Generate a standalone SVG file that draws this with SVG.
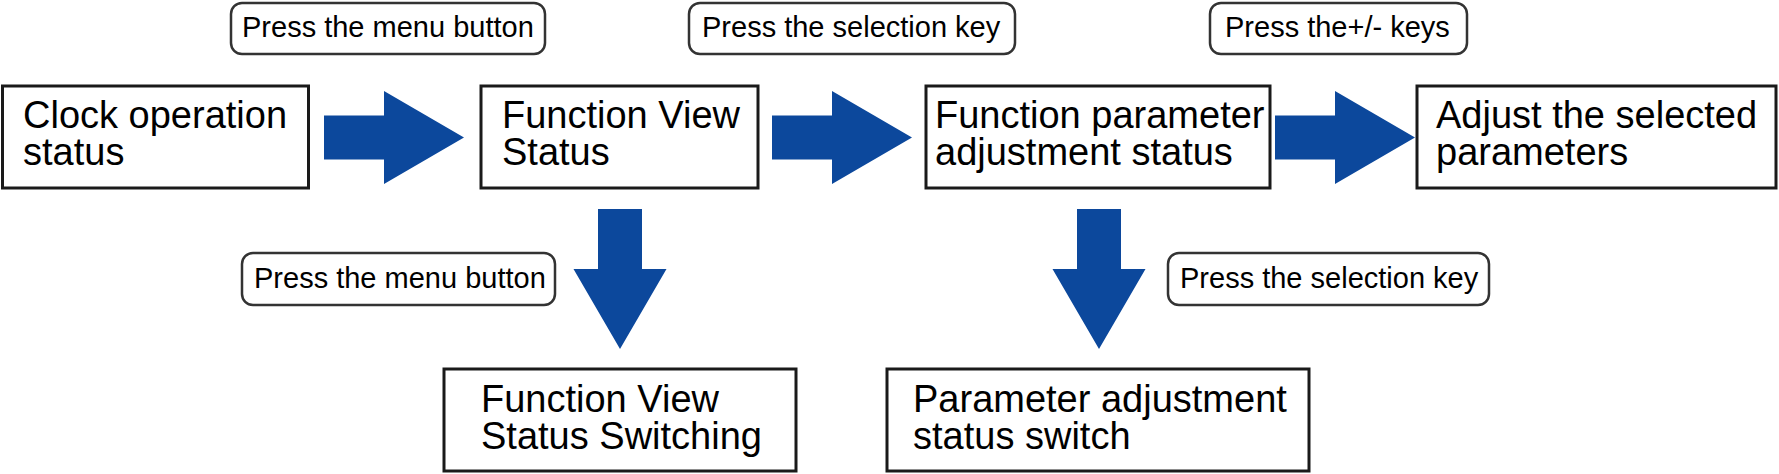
<svg xmlns="http://www.w3.org/2000/svg" width="1779" height="474" viewBox="0 0 1779 474">
<defs>
<style>
.node{fill:#fff;stroke:#1a1a1a;stroke-width:3}
.lab{fill:#fff;stroke:#333;stroke-width:2.5}
.nt{font-family:"Liberation Sans",Arial,sans-serif;font-size:38px;fill:#000}
.lt{font-family:"Liberation Sans",Arial,sans-serif;font-size:29px;fill:#000}
.arr{fill:#0c489c}
</style>
<path id="ah" d="M0,-22 L60,-22 L60,-46.5 L140,0 L60,46.5 L60,22 L0,22 Z"/>
</defs>
<rect width="1779" height="474" fill="#fff"/>
<g id="connectors">
<use href="#ah" class="arr" transform="translate(324,137.5)"/>
<use href="#ah" class="arr" transform="translate(772,137.5)"/>
<use href="#ah" class="arr" transform="translate(1275,137.5)"/>
<use href="#ah" class="arr" transform="translate(620,209) rotate(90)"/>
<use href="#ah" class="arr" transform="translate(1099,209) rotate(90)"/>
</g>
<g id="label1"><rect class="lab" x="231" y="3" width="314" height="51" rx="11"/><text class="lt" x="242" y="37">Press the menu button</text></g>
<g id="label2"><rect class="lab" x="689" y="3" width="326" height="51" rx="11"/><text class="lt" x="702" y="37">Press the selection key</text></g>
<g id="label3"><rect class="lab" x="1210" y="3" width="257" height="51" rx="11"/><text class="lt" x="1225" y="37">Press the+/- keys</text></g>
<g id="label4"><rect class="lab" x="242" y="253" width="313" height="52" rx="11"/><text class="lt" x="254" y="288">Press the menu button</text></g>
<g id="label5"><rect class="lab" x="1168" y="253" width="321" height="52" rx="11"/><text class="lt" x="1180" y="288">Press the selection key</text></g>
<g id="node1"><rect class="node" x="2.5" y="86" width="306" height="102"/><text class="nt" x="23" y="128">Clock operation</text><text class="nt" x="23" y="165">status</text></g>
<g id="node2"><rect class="node" x="481" y="86" width="277" height="102"/><text class="nt" x="502" y="128">Function View</text><text class="nt" x="502" y="165">Status</text></g>
<g id="node3"><rect class="node" x="926" y="86" width="344" height="102"/><text class="nt" x="935" y="128">Function parameter</text><text class="nt" x="935" y="165">adjustment status</text></g>
<g id="node4"><rect class="node" x="1417" y="86" width="359" height="102"/><text class="nt" x="1436" y="128">Adjust the selected</text><text class="nt" x="1436" y="165">parameters</text></g>
<g id="node5"><rect class="node" x="444" y="369" width="352" height="102"/><text class="nt" x="481" y="412">Function View</text><text class="nt" x="481" y="449">Status Switching</text></g>
<g id="node6"><rect class="node" x="887" y="369" width="422" height="102"/><text class="nt" x="913" y="412">Parameter adjustment</text><text class="nt" x="913" y="449">status switch</text></g>
</svg>
